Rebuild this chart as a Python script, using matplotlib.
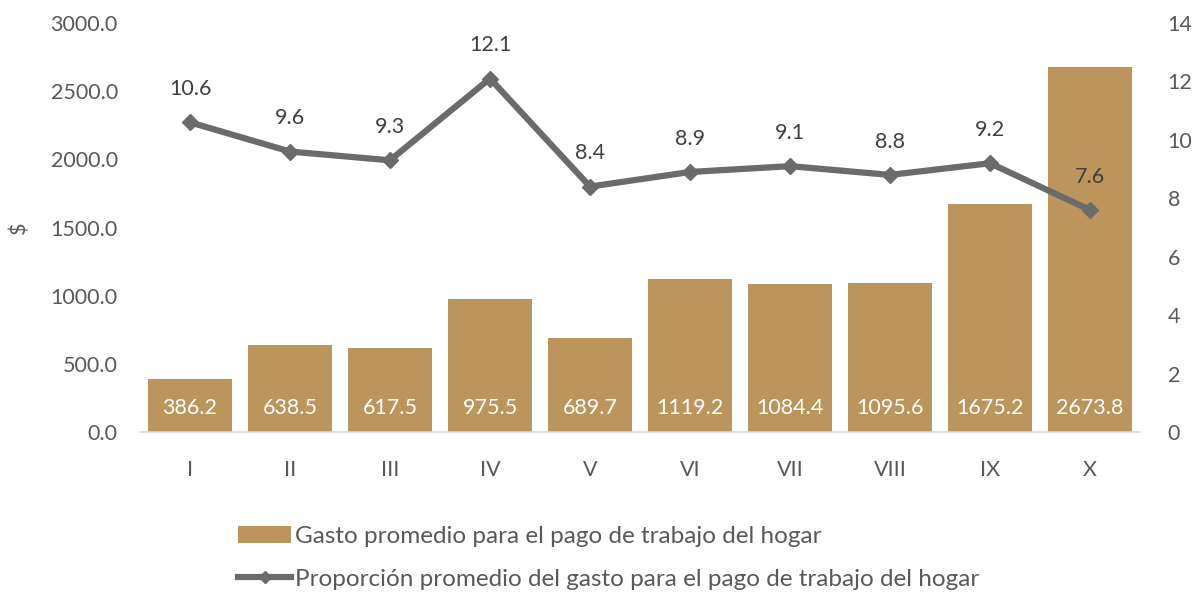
import matplotlib
matplotlib.use("Agg")
import matplotlib.pyplot as plt
from matplotlib.lines import Line2D
from matplotlib.patches import Patch

categories = ["I", "II", "III", "IV", "V", "VI", "VII", "VIII", "IX", "X"]
gasto = [386.2, 638.5, 617.5, 975.5, 689.7, 1119.2, 1084.4, 1095.6, 1675.2, 2673.8]
proporcion = [10.6, 9.6, 9.3, 12.1, 8.4, 8.9, 9.1, 8.8, 9.2, 7.6]
bar_label = "Gasto promedio para el pago de trabajo del hogar"
line_label = "Proporción promedio del gasto para el pago de trabajo del hogar"

plt.rcParams['font.family'] = ['Lato', 'DejaVu Sans']
BAR = "#BC955C"
LINE = "#6B6B6B"
TXT = "#595959"

W, H = 1198, 594
fig = plt.figure(figsize=(W / 100, H / 100), dpi=100)
ax = fig.add_axes([140 / W, (H - 432) / H, 1000 / W, 409 / H])
ax2 = ax.twinx()

x = list(range(len(categories)))
ax.bar(x, gasto, width=0.84, color=BAR, zorder=2)
ax.set_xlim(-0.5, len(categories) - 0.5)
ax.set_ylim(0, 3000)
yt = [0, 500, 1000, 1500, 2000, 2500, 3000]
ax.set_yticks(yt)
ax.set_yticklabels([f"{v:.1f}" for v in yt])
ax.set_xticks(x)
ax.set_xticklabels(categories)
ax.tick_params(axis='both', length=0, labelsize=15.5, colors=TXT)
ax.tick_params(axis='x', pad=20)
ax.tick_params(axis='y', pad=16)
for s in ["top", "right", "left"]:
    ax.spines[s].set_visible(False)
ax.spines["bottom"].set_color("#D9D9D9")
ax.spines["bottom"].set_linewidth(1.2)
ax.set_ylabel("$", fontsize=15.5, color=TXT, labelpad=15)

for xi, v in zip(x, gasto):
    ax.annotate(f"{v:.1f}", (xi, 0), xytext=(0, 17), textcoords="offset points",
                ha="center", va="center", color="white", fontsize=15.5, zorder=3)

ax2.plot(x, proporcion, color=LINE, lw=4.5, marker="D", markersize=8, zorder=4)
ax2.set_ylim(0, 14)
ax2.set_yticks(range(0, 15, 2))
ax2.tick_params(axis='y', length=0, labelsize=15.5, colors=TXT, pad=20)
for s in ["top", "right", "left", "bottom"]:
    ax2.spines[s].set_visible(False)
for xi, v in zip(x, proporcion):
    ax2.annotate(f"{v:.1f}", (xi, v), xytext=(0, 24), textcoords="offset points",
                 ha="center", va="center", fontsize=15.5, color="#404040")

handles = [Patch(facecolor=BAR, edgecolor="none"),
           Line2D([0], [0], color=LINE, lw=4.5, marker="D", markersize=6)]
fig.legend(handles, [bar_label, line_label], loc="upper left",
           bbox_to_anchor=(238 / W, 1 - 526 / H), frameon=False, ncol=1,
           fontsize=17.5, labelcolor=TXT, handlelength=2.2, handletextpad=0.15,
           labelspacing=0.9, borderaxespad=0, borderpad=0)

fig.savefig("out.png", dpi=100)
